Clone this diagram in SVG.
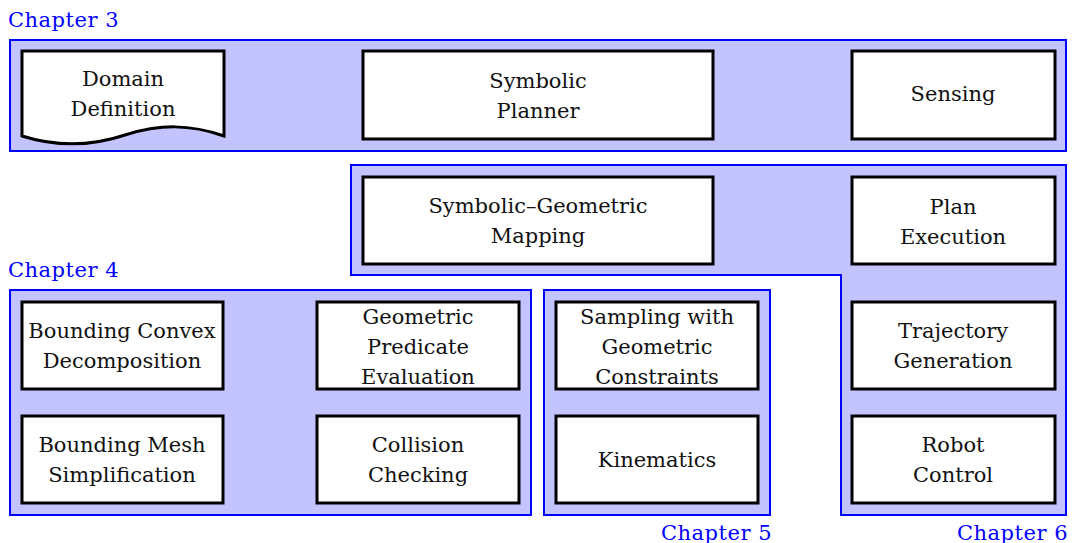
<svg xmlns="http://www.w3.org/2000/svg" width="1072" height="543" viewBox="0 0 1072 543">
<style>
.grp{fill:#c3c3ff;stroke:#0000ff;stroke-width:2}
.nd{fill:#ffffff;stroke:#000000;stroke-width:3}
.t{font-family:'DejaVu Serif',serif;font-size:21px;fill:#111111;text-anchor:middle}
.ch{font-family:'DejaVu Serif',serif;font-size:21px;letter-spacing:0.5px;fill:#0000ff}
</style>
<rect width="1072" height="543" fill="#ffffff"/>
<g id="groups">
<rect id="chapter3" class="grp" x="10" y="40" width="1056" height="111"/>
<polygon id="chapter6" class="grp" points="351,165 1066,165 1066,515 841,515 841,275 351,275"/>
<rect id="chapter4" class="grp" x="10" y="290" width="521" height="225"/>
<rect id="chapter5" class="grp" x="544" y="290" width="226" height="225"/>
</g>
<g id="labels">
<text class="ch" x="8" y="27">Chapter 3</text>
<text class="ch" x="8" y="277">Chapter 4</text>
<text class="ch" x="772" y="540" text-anchor="end">Chapter 5</text>
<text class="ch" x="1068" y="540" text-anchor="end">Chapter 6</text>
</g>
<g id="domain">
<path class="nd" d="M22,51 H224 V136 C190,124 160,124 125,135 C95,145 60,148 22,136 Z"/>
<text class="t" x="123" y="86">Domain</text>
<text class="t" x="123" y="116">Definition</text>
</g>
<g id="planner">
<rect class="nd" x="363" y="51" width="350" height="88"/>
<text class="t" x="538" y="88">Symbolic</text>
<text class="t" x="538" y="118">Planner</text>
</g>
<g id="sensing">
<rect class="nd" x="852" y="51" width="203" height="88"/>
<text class="t" x="953" y="101">Sensing</text>
</g>
<g id="mapping">
<rect class="nd" x="363" y="177" width="350" height="87"/>
<text class="t" x="538" y="213">Symbolic–Geometric</text>
<text class="t" x="538" y="243">Mapping</text>
</g>
<g id="execution">
<rect class="nd" x="852" y="177" width="203" height="87"/>
<text class="t" x="953" y="214">Plan</text>
<text class="t" x="953" y="244">Execution</text>
</g>
<g id="convex">
<rect class="nd" x="22" y="302" width="201" height="87"/>
<text class="t" x="122" y="338">Bounding Convex</text>
<text class="t" x="122" y="368">Decomposition</text>
</g>
<g id="predicate">
<rect class="nd" x="317" y="302" width="202" height="87"/>
<text class="t" x="418" y="324">Geometric</text>
<text class="t" x="418" y="354">Predicate</text>
<text class="t" x="418" y="384">Evaluation</text>
</g>
<g id="mesh">
<rect class="nd" x="22" y="416" width="201" height="87"/>
<text class="t" x="122" y="452">Bounding Mesh</text>
<text class="t" x="122" y="482">Simplification</text>
</g>
<g id="collision">
<rect class="nd" x="317" y="416" width="202" height="87"/>
<text class="t" x="418" y="452">Collision</text>
<text class="t" x="418" y="482">Checking</text>
</g>
<g id="sampling">
<rect class="nd" x="556" y="302" width="202" height="87"/>
<text class="t" x="657" y="324">Sampling with</text>
<text class="t" x="657" y="354">Geometric</text>
<text class="t" x="657" y="384">Constraints</text>
</g>
<g id="kinematics">
<rect class="nd" x="556" y="416" width="202" height="87"/>
<text class="t" x="657" y="467">Kinematics</text>
</g>
<g id="trajectory">
<rect class="nd" x="852" y="302" width="203" height="87"/>
<text class="t" x="953" y="338">Trajectory</text>
<text class="t" x="953" y="368">Generation</text>
</g>
<g id="control">
<rect class="nd" x="852" y="416" width="203" height="87"/>
<text class="t" x="953" y="452">Robot</text>
<text class="t" x="953" y="482">Control</text>
</g>
<g id="connectors"></g>
</svg>
